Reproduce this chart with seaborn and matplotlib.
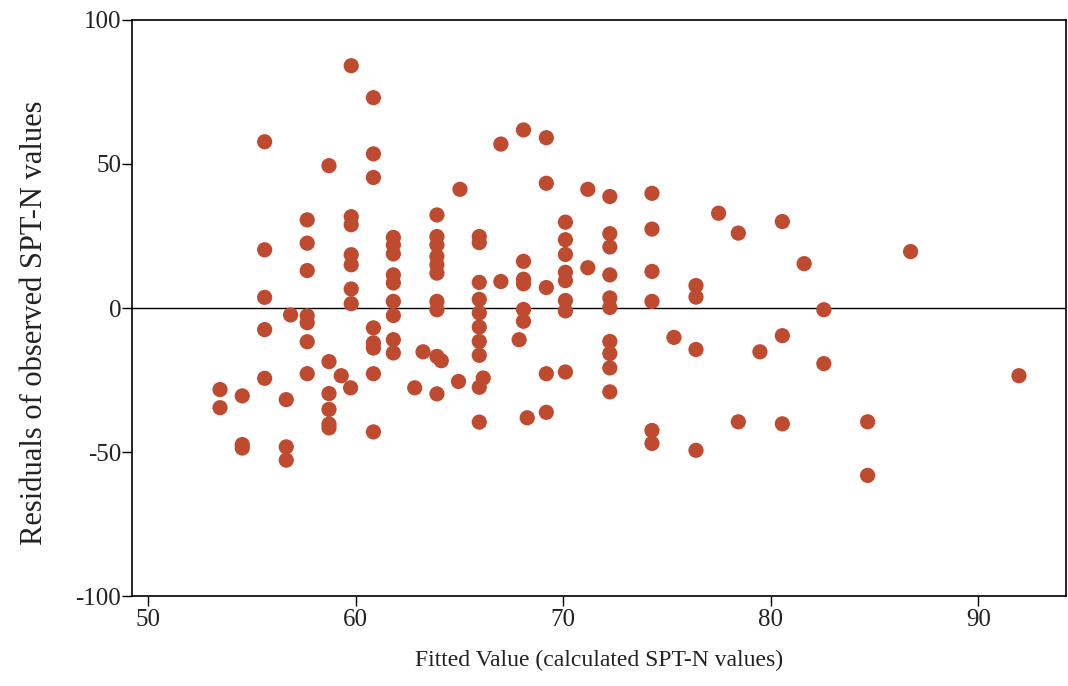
import matplotlib
matplotlib.use("Agg")
import matplotlib.pyplot as plt
import seaborn as sns
import pandas as pd

# Fitted SPT-N values and the matching residuals (observed - fitted)
fitted = [
    53.47, 53.47,
    54.54, 54.54, 54.54,
    55.62, 55.62, 55.62, 55.62, 55.62,
    56.87,
    56.66, 56.66, 56.66,
    57.67, 57.67, 57.67, 57.67, 57.67, 57.67, 57.67,
    58.72, 58.72, 58.72, 58.72, 58.72, 58.72,
    59.31,
    59.76,
    59.79, 59.79, 59.79, 59.79, 59.79, 59.79, 59.79,
    60.86, 60.86, 60.86, 60.86, 60.86, 60.86, 60.86, 60.86,
    61.82, 61.82, 61.82, 61.82, 61.82, 61.82, 61.82, 61.82, 61.82,
    62.85,
    63.25,
    63.92, 63.92, 63.92, 63.92, 63.92, 63.92, 63.92, 63.92, 63.92, 63.92,
    64.13,
    64.96,
    65.03,
    65.96, 65.96, 65.96, 65.96, 65.96, 65.96, 65.96, 65.96, 65.96, 65.96,
    66.15,
    67.00, 67.00,
    67.88,
    68.09, 68.09, 68.09, 68.09, 68.09, 68.09,
    68.27,
    69.19, 69.19, 69.19, 69.19, 69.19,
    70.11, 70.11, 70.11, 70.11, 70.11, 70.11, 70.11, 70.11,
    71.19, 71.19,
    72.25, 72.25, 72.25, 72.25, 72.25, 72.25, 72.25, 72.25, 72.25, 72.25,
    74.28, 74.28, 74.28, 74.28, 74.28, 74.28,
    75.34,
    76.40, 76.40, 76.40, 76.40,
    77.49,
    78.44, 78.44,
    79.48,
    80.56, 80.56, 80.56,
    81.61,
    82.56, 82.56,
    84.67, 84.67,
    86.74,
    91.96,
]

residuals = [
    -28.3, -34.6,
    -30.5, -47.4, -48.6,
    57.7, 20.2, 3.7, -7.5, -24.4,
    -2.4,
    -31.8, -48.2, -52.8,
    30.6, 22.5, 13.0, -2.7, -5.1, -11.7, -22.8,
    49.4, -18.6, -29.7, -35.2, -40.3, -41.6,
    -23.5,
    -27.7,
    84.1, 31.7, 28.9, 18.5, 15.0, 6.6, 1.5,
    73.0, 53.5, 45.3, -6.9, -12.1, -13.9, -22.8, -43.0,
    24.5, 21.9, 18.8, 11.5, 8.7, 2.3, -2.6, -11.0, -15.6,
    -27.7,
    -15.2,
    32.3, 24.8, 21.9, 17.9, 15.0, 12.1, 2.3, -0.6, -16.8, -29.8,
    -18.3,
    -25.5,
    41.2,
    24.8, 22.7, 8.9, 3.0, -1.7, -6.6, -11.6, -16.4, -27.5, -39.6,
    -24.3,
    56.9, 9.2,
    -11.0,
    61.8, 16.2, 10.0, 8.4, -0.5, -4.6,
    -38.1,
    59.1, 43.3, 7.1, -22.8, -36.2,
    29.8, 23.7, 18.6, 12.4, 9.5, 2.6, -1.0, -22.2,
    41.2, 14.0,
    38.7, 25.8, 21.2, 11.5, 3.5, 0.2, -11.6, -15.8, -20.8, -29.1,
    39.8, 27.4, 12.7, 2.3, -42.5, -47.0,
    -10.2,
    7.8, 3.8, -14.4, -49.4,
    32.9,
    26.0, -39.5,
    -15.2,
    30.0, -9.6, -40.2,
    15.4,
    -0.6, -19.3,
    -39.5, -58.1,
    19.6,
    -23.5,
]

x_ticks = [50, 60, 70, 80, 90]
y_ticks = [-100, -50, 0, 50, 100]
x_label = "Fitted Value (calculated SPT-N values)"
y_label = "Residuals of observed SPT-N values"

sns.set_theme(style="white")
plt.rcParams["font.family"] = ["Liberation Serif", "DejaVu Serif"]
plt.rcParams["axes.unicode_minus"] = False

df = pd.DataFrame({"fitted": fitted, "residual": residuals})

fig = plt.figure(figsize=(10.68, 6.86), dpi=100)
ax = fig.add_axes([0.124, 0.131, 0.874, 0.840])

sns.scatterplot(data=df, x="fitted", y="residual", ax=ax,
                color="#BE4A2F", s=120, edgecolor="none", linewidth=0,
                zorder=3)

ax.axhline(0, color="black", linewidth=1.0, zorder=2)

ax.set_xlim(49.25, 94.22)
ax.set_ylim(-100, 100)
ax.set_xticks(x_ticks)
ax.set_yticks(y_ticks)
ax.set_xticklabels([str(t) for t in x_ticks])
ax.set_yticklabels([str(t) for t in y_ticks])

ax.tick_params(axis="both", direction="out", length=7, width=1.0,
               color="black", labelsize=18, labelcolor="#222222",
               bottom=True, left=True)
ax.tick_params(axis="x", pad=2)
ax.tick_params(axis="y", pad=1)

for side in ["top", "right", "bottom", "left"]:
    ax.spines[side].set_visible(True)
    ax.spines[side].set_color("black")
    ax.spines[side].set_linewidth(1.2)

ax.set_xlabel(x_label, fontsize=17, color="#222222", labelpad=14)
ax.set_ylabel(y_label, fontsize=22, color="#222222")
ax.yaxis.set_label_coords(-0.089, 0.474)

ax.set_facecolor("white")
fig.patch.set_facecolor("white")

fig.savefig("out.png", dpi=100)
